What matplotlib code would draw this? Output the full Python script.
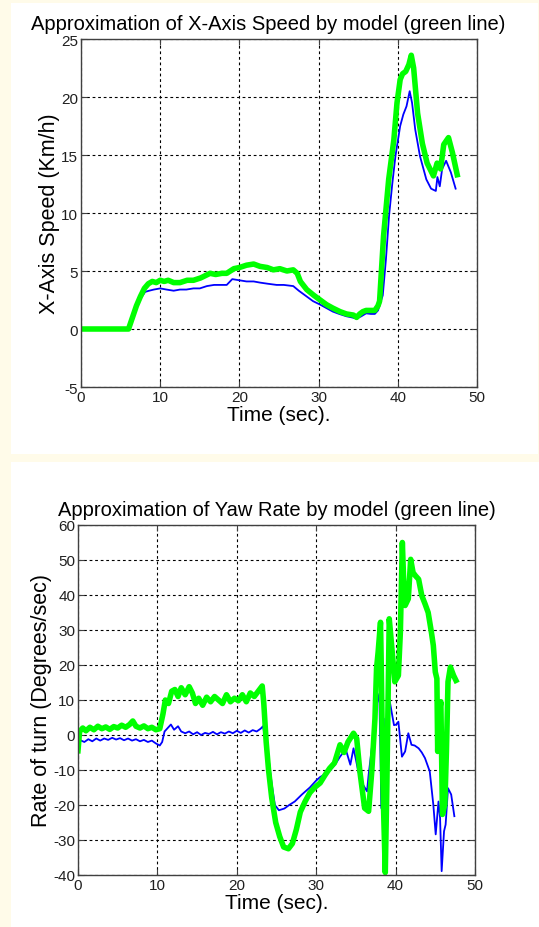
import matplotlib

matplotlib.use("Agg")
import matplotlib.pyplot as plt
from matplotlib.patches import Rectangle

# --- X-axis speed (Km/h) ---
speed_meas_t = [0, 6.0, 6.5, 7.0, 7.6, 8.1, 8.6, 9.2, 10.0, 10.8, 11.7, 12.5, 13.3, 14.2, 15.0, 15.9,
                16.8, 17.6, 18.4, 19.1, 20.0, 20.9, 21.8, 22.6, 23.6, 24.7, 25.6, 26.8, 27.5, 28.5,
                29.3, 30.2, 31.0, 31.8, 32.6, 33.5, 34.2, 34.8, 35.4, 36.0, 36.6, 37.1, 37.5, 38.1,
                38.5, 38.9, 39.3, 39.7, 40.3, 40.7, 41.1, 41.5, 41.8, 42.2, 42.8, 43.6, 44.2, 44.8,
                45.0, 45.3, 45.6, 46.1, 46.7, 47.3]
speed_meas = [0, 0, 0.9, 1.8, 2.7, 3.2, 3.3, 3.4, 3.5, 3.4, 3.3, 3.4, 3.4, 3.5, 3.5, 3.7,
              3.8, 3.8, 3.8, 4.3, 4.2, 4.1, 4.1, 4.0, 3.9, 3.8, 3.8, 3.7, 3.3, 2.8,
              2.4, 2.1, 1.8, 1.5, 1.3, 1.1, 1.0, 0.9, 1.1, 1.35, 1.3, 1.3, 1.6, 2.9,
              6.0, 9.8, 12.5, 14.9, 17.5, 18.5, 19.2, 20.5, 19.5, 17.2, 14.9, 12.9, 12.1, 11.9,
              13.1, 12.3, 13.8, 14.5, 13.5, 12.1]

speed_model_t = [0, 6.0, 6.5, 7.0, 7.5, 8.0, 8.5, 9.0, 9.5, 10.0, 10.5, 11.0, 11.7, 12.5, 13.4, 14.2,
                 15.1, 15.7, 16.3, 17.0, 17.8, 18.4, 19.3, 20.0, 20.9, 21.8, 22.6, 23.5, 24.3, 25.1,
                 26.0, 26.8, 27.3, 27.7, 28.5, 29.4, 30.2, 31.0, 31.8, 32.7, 33.5, 34.4, 34.8, 35.2,
                 35.6, 36.0, 36.6, 37.1, 37.5, 37.7, 38.2, 38.85, 39.5, 39.9, 40.3, 40.6, 41.0, 41.4,
                 41.7, 42.0, 42.5, 43.1, 43.7, 44.5, 44.96, 45.4, 45.8, 46.4, 46.9, 47.5]
speed_model = [0, 0, 1.0, 2.0, 2.8, 3.5, 3.9, 4.1, 4.0, 4.2, 4.1, 4.2, 4.0, 4.0, 4.2, 4.2,
               4.4, 4.6, 4.8, 4.7, 4.8, 4.8, 5.2, 5.3, 5.5, 5.6, 5.4, 5.3, 5.1, 5.2,
               5.0, 5.1, 4.8, 4.1, 3.4, 2.9, 2.5, 2.1, 1.8, 1.5, 1.3, 1.2, 1.0, 1.3,
               1.5, 1.6, 1.6, 1.6, 2.0, 2.4, 8.0, 12.9, 16.3, 19.5, 21.5, 22.0, 22.2, 22.8,
               23.6, 22.5, 18.6, 16.0, 14.3, 13.2, 14.3, 13.8, 15.9, 16.5, 15.2, 13.3]

# --- Yaw rate (Degrees/sec) ---
yaw_meas_t = [0.0, 0.3, 0.8, 1.3, 1.8, 2.3, 2.8, 3.3, 3.8, 4.3, 4.8, 5.3, 5.8, 6.3, 6.8, 7.3, 7.8,
              8.3, 8.8, 9.3, 9.8, 10.3, 10.6, 10.9, 11.3, 11.7, 12.1, 12.6, 13.0, 13.5, 14.0, 14.5,
              15.0, 15.5, 16.0, 16.5, 17.0, 17.5, 18.0, 18.5, 19.0, 19.5, 20.0, 20.5, 21.0, 21.5,
              22.0, 22.5, 23.0, 23.3, 23.6, 24.0, 24.4, 24.8, 25.3, 26.0, 26.6, 27.3, 28.2, 29.2,
              30.0, 30.5, 31.3, 32.0, 32.5, 33.0, 33.4, 33.8, 34.3, 34.7, 35.0, 35.3, 35.9, 36.4,
              36.6, 37.2, 37.6, 37.95, 38.1, 38.2, 38.5, 38.9, 39.2, 39.5, 39.8, 40.1, 40.35, 40.8,
              41.2, 41.6, 42.0, 42.4, 42.9, 43.3, 43.7, 44.3, 44.75, 45.05, 45.4, 45.6, 45.8, 46.1,
              46.3, 46.6, 47.0, 47.4]
yaw_meas = [-2.0, -1.5, -2.0, -1.2, -1.8, -1.0, -1.6, -1.0, -1.4, -0.8, -1.3, -0.9, -1.5, -1.0, -1.6,
            -1.2, -1.8, -1.4, -2.0, -1.6, -2.4, -3.0, -2.0, 1.0, 2.0, 3.0, 1.5, 2.5, 1.0, 0.5, 1.0, 0.2,
            0.8, 0.0, 0.6, 0.3, 0.9, 0.2, 0.8, 0.4, 1.0, 0.5, 1.2, 0.6, 1.3, 0.7,
            1.4, 1.0, 1.8, 2.5, -1.0, -6.6, -14.0, -20.0, -21.5, -21.0, -20.0, -19.0, -17.0, -15.0,
            -13.0, -12.0, -11.0, -9.5, -8.0, -6.2, -5.0, -4.7, -8.5, -3.8, -7.0, -10.4, -14.2, -16.1,
            -11.4, 0.0, 8.5, 11.8, -6.6, -20.9, 4.7, -25.6, 10.4, 6.6, 2.8, 3.0, 3.8, -6.2,
            -4.7, 0.5, -2.8, -3.0, -3.8, -5.0, -6.6, -10.4, -19.9, -28.4, -19.0, -23.7, -38.9, -27.5,
            -25.6, -15.2, -17.0, -23.2]

yaw_model_t = [0.0, 0.2, 0.6, 1.0, 1.5, 2.0, 2.5, 3.0, 3.5, 4.0, 4.5, 5.0, 5.5, 6.0, 6.5, 6.9, 7.3,
               7.8, 8.3, 8.8, 9.3, 9.8, 10.3, 10.7, 11.0, 11.4, 11.8, 12.2, 12.6, 13.0, 13.5, 14.0,
               14.4, 14.8, 15.2, 15.7, 16.2, 16.7, 17.2, 17.7, 18.2, 18.7, 19.2, 19.7, 20.2, 20.7,
               21.2, 21.7, 22.2, 22.7, 23.2, 23.4, 23.7, 24.0, 24.4, 24.9, 25.4, 25.9, 26.5, 27.0,
               27.5, 28.0, 28.6, 29.2, 29.8, 30.5, 31.1, 31.7, 32.3, 33.0, 33.5, 34.0, 34.7, 35.1,
               35.5, 36.1, 36.6, 37.0, 37.4, 37.6, 37.8, 38.1, 38.2, 38.4, 38.7, 38.9, 39.2, 39.5,
               39.9, 40.35, 40.6, 40.85, 41.0, 41.2, 41.6, 41.9, 42.2, 42.5, 42.9, 43.3, 43.7, 44.1,
               44.5, 44.75, 45.0, 45.2, 45.3, 45.4, 45.7, 45.9, 46.2, 46.4, 46.6, 46.9, 47.3, 47.6]
yaw_model = [-4.5, 1.0, 2.0, 1.2, 2.2, 1.5, 2.5, 1.8, 2.3, 1.6, 2.4, 2.0, 2.8, 2.2, 3.0, 4.0, 2.5,
             2.0, 2.6, 1.8, 2.2, 1.5, 1.8, 6.0, 10.0, 9.0, 12.5, 13.0, 11.0, 13.5, 11.5, 13.8,
             12.0, 9.0, 10.5, 8.5, 10.8, 9.5, 11.0, 10.0, 9.0, 11.5, 9.5, 10.5, 9.8, 11.5,
             9.5, 12.0, 11.0, 12.5, 14.0, 9.0, -2.0, -10.0, -18.0, -25.0, -29.0, -32.0, -32.5, -31.0,
             -27.0, -22.0, -19.0, -16.5, -15.0, -13.7, -11.5, -9.5, -8.0, -2.8, -5.0, -2.0, 0.5, -1.0,
             -10.4, -20.9, -21.8, -10.4, 4.7, 19.0, 23.7, 32.2, 19.0, -14.0, -39.3, -14.0, 33.2, 25.6,
             15.2, 17.0, 29.4, 55.0, 45.0, 37.0, 38.9, 50.2, 46.4, 45.5, 44.5, 39.8, 37.5, 35.0,
             29.5, 25.6, 18.0, 16.1, -4.7, 4.7, 9.5, -22.7, -19.9, -4.7, 15.2, 19.4, 17.0, 15.6]

FONT = "Liberation Sans"
CREAM = "#fffbe9"
BLUE = "#0000ff"
GREEN = "#00ff00"

plt.rcParams["axes.unicode_minus"] = False


def _style_axes(ax, ylim, yticks, title, ylabel, title_x):
    ax.set_xlim(0, 50)
    ax.set_ylim(*ylim)
    ax.set_xticks([0, 10, 20, 30, 40, 50])
    ax.set_yticks(yticks)
    ax.grid(True, color="black", linestyle=(0, (2.5, 2.5)), linewidth=0.8)
    ax.tick_params(direction="in", top=True, right=True, length=4, width=0.8,
                   labelsize=11, labelcolor="#202020", colors="#404040", pad=2)
    for lab in ax.get_xticklabels() + ax.get_yticklabels():
        lab.set_fontfamily(FONT)
        lab.set_color("#202020")
    for spine in ax.spines.values():
        spine.set_color("#404040")
        spine.set_linewidth(1.0)
    ax.set_title(title, fontsize=14.5, family=FONT, pad=7, x=title_x)
    ax.set_xlabel("Time (sec).", fontsize=15, family=FONT, labelpad=1)
    ax.set_ylabel(ylabel, fontsize=15.5, family=FONT, labelpad=1)


def main() -> None:
    fig = plt.figure(figsize=(5.39, 9.28), dpi=100)
    fig.patch.set_facecolor(CREAM)

    # white panels pasted on the cream page
    fig.patches.append(Rectangle((11 / 539, 1 - 455 / 928), 527 / 539, 451 / 928,
                                 transform=fig.transFigure, facecolor="white", edgecolor="none", zorder=-5))
    fig.patches.append(Rectangle((11 / 539, 0), 528 / 539, 465 / 928,
                                 transform=fig.transFigure, facecolor="white", edgecolor="none", zorder=-5))

    ax1 = fig.add_axes([81 / 539, 1 - 388 / 928, 396 / 539, 348 / 928])
    ax1.plot(speed_meas_t, speed_meas, color=BLUE, linewidth=1.3)
    ax1.plot(speed_model_t, speed_model, color=GREEN, linewidth=4.0, solid_joinstyle="round")
    _style_axes(ax1, (-5, 25), [-5, 0, 5, 10, 15, 20, 25],
                "Approximation of X-Axis Speed by model (green line)", "X-Axis Speed (Km/h)", 0.472)

    ax2 = fig.add_axes([78 / 539, 1 - 876 / 928, 397 / 539, 350 / 928])
    ax2.plot(yaw_meas_t, yaw_meas, color=BLUE, linewidth=1.3)
    ax2.plot(yaw_model_t, yaw_model, color=GREEN, linewidth=4.0, solid_joinstyle="round")
    _style_axes(ax2, (-40, 60), list(range(-40, 61, 10)),
                "Approximation of Yaw Rate by model (green line)", "Rate of turn (Degrees/sec)", 0.5)

    fig.savefig("out.png", dpi=100, facecolor=fig.get_facecolor())


if __name__ == "__main__":
    main()
